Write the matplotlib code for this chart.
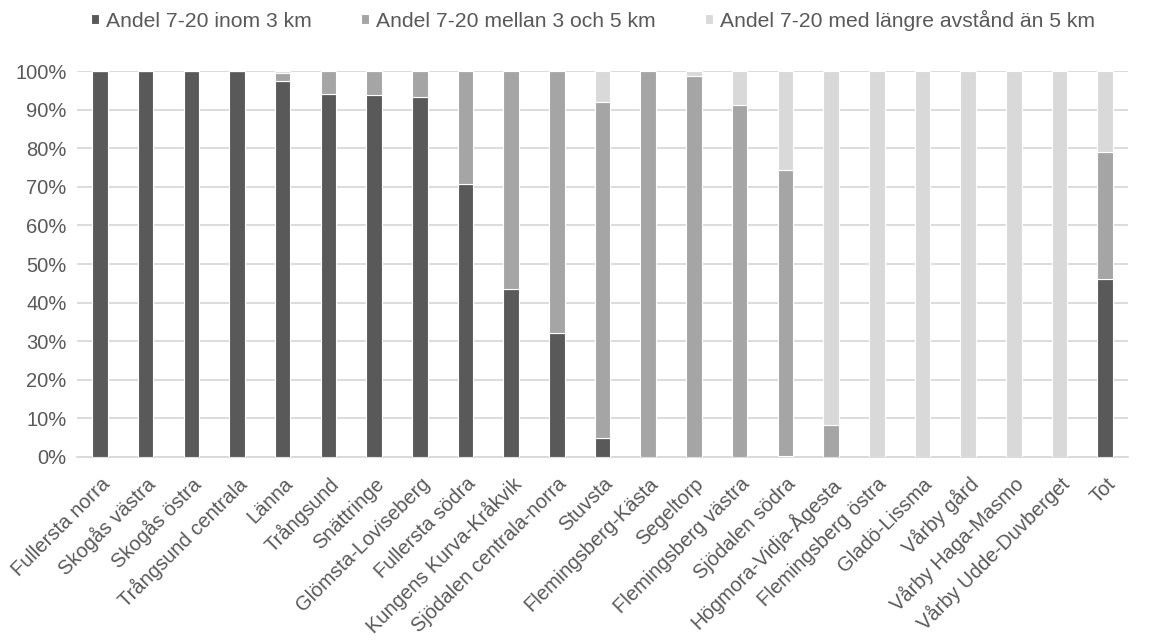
import numpy as np
import matplotlib.pyplot as plt
from matplotlib.ticker import PercentFormatter
from matplotlib.transforms import ScaledTranslation

plt.rcParams['font.family'] = ['Liberation Sans', 'DejaVu Sans']

omraden = ['Fullersta norra', 'Skogås västra', 'Skogås östra', 'Trångsund centrala',
           'Länna', 'Trångsund', 'Snättringe', 'Glömsta-Loviseberg', 'Fullersta södra',
           'Kungens Kurva-Kråkvik', 'Sjödalen centrala-norra', 'Stuvsta',
           'Flemingsberg-Kästa', 'Segeltorp', 'Flemingsberg västra', 'Sjödalen södra',
           'Högmora-Vidja-Ågesta', 'Flemingsberg östra', 'Gladö-Lissma', 'Vårby gård',
           'Vårby Haga-Masmo', 'Vårby Udde-Duvberget', 'Tot']

inom_3 = [100, 100, 100, 100, 97.5, 94.0, 93.8, 93.2, 70.7, 43.4, 32.0, 5.0,
          0, 0, 0, 0.3, 0, 0, 0, 0, 0, 0, 46.1]
mellan_3_5 = [0, 0, 0, 0, 2.0, 6.0, 6.2, 6.8, 29.3, 56.6, 68.0, 87.0,
              100, 98.8, 91.2, 74.0, 8.3, 0, 0, 0, 0, 0, 32.9]
over_5 = [0, 0, 0, 0, 0.5, 0, 0, 0, 0, 0, 0, 8.0,
          0, 1.2, 8.8, 25.7, 91.7, 100, 100, 100, 100, 100, 21.0]

etiketter = ['Andel 7-20 inom 3 km', 'Andel 7-20 mellan 3 och 5 km',
             'Andel 7-20 med längre avstånd än 5 km']
farger = ['#595959', '#A5A5A5', '#D9D9D9']
textfarg = '#595959'
fs = 14.5

fig = plt.figure(figsize=(11.55, 6.4), dpi=100)
ax = fig.add_axes([0.0667, 0.286, 0.91, 0.603])

x = np.arange(len(omraden))
botten = np.zeros(len(omraden))
for serie, lab, c in zip([inom_3, mellan_3_5, over_5], etiketter, farger):
    ax.bar(x, serie, 0.34, bottom=botten, color=c, label=lab,
           edgecolor='white', linewidth=0.8, zorder=3)
    botten += np.array(serie)

ax.set_xlim(-0.5, len(omraden) - 0.5)
ax.set_ylim(0, 100)
ax.set_yticks(np.arange(0, 101, 10))
ax.yaxis.set_major_formatter(PercentFormatter(decimals=0))
ax.grid(axis='y', color='#D9D9D9', linewidth=1.3, zorder=0)
for s in ['top', 'right', 'left']:
    ax.spines[s].set_visible(False)
ax.spines['bottom'].set_color('#D9D9D9')
ax.spines['bottom'].set_linewidth(1.3)
ax.tick_params(axis='both', length=0, colors=textfarg, labelsize=fs)
ax.tick_params(axis='y', pad=7.5)
ax.tick_params(axis='x', pad=0)

ax.set_xticks(x)
ax.set_xticklabels(omraden, rotation=45, ha='right', va='center',
                   rotation_mode='anchor', fontsize=fs, color=textfarg)
forskjut = ScaledTranslation(7 / 100, -24 / 100, fig.dpi_scale_trans)
for t in ax.get_xticklabels():
    t.set_transform(t.get_transform() + forskjut)

leg = fig.legend(*ax.get_legend_handles_labels(), loc='center',
                 bbox_to_anchor=(593 / 1155, 1 - 20 / 640), ncol=3, frameon=False,
                 fontsize=15.2, handlelength=0.4, handleheight=0.4, handletextpad=0.35,
                 columnspacing=2.3)
for t in leg.get_texts():
    t.set_color(textfarg)

fig.savefig('out.png', dpi=100)
